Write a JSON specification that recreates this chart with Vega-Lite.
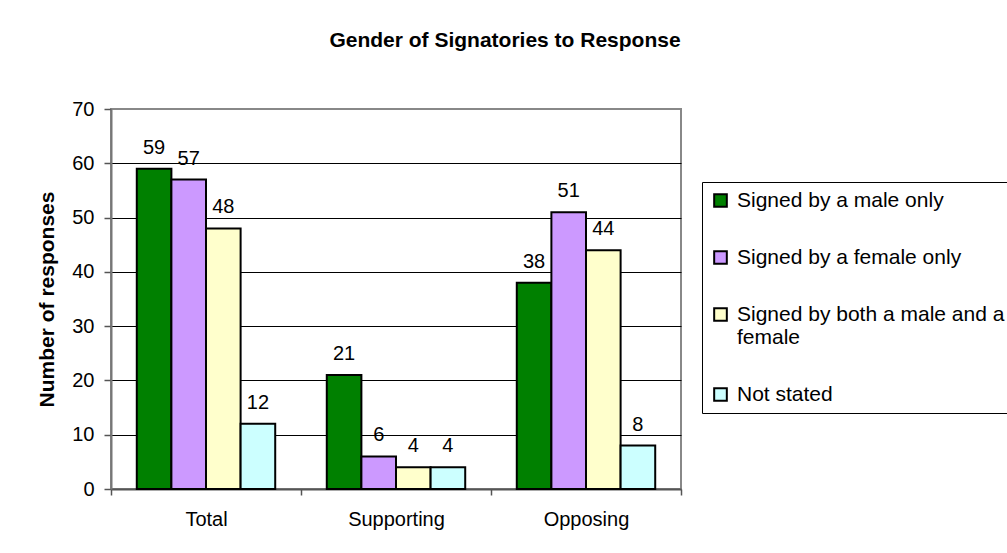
{
  "$schema": "https://vega.github.io/schema/vega-lite/v6.json",
  "width": 570,
  "height": 380,
  "autosize": {"type": "none"},
  "padding": {"left": 111, "top": 109, "right": 326, "bottom": 64},
  "background": "white",
  "title": {
    "text": "Gender of Signatories to Response",
    "font": "Arial",
    "fontSize": 21,
    "fontWeight": "bold",
    "color": "black",
    "anchor": "middle",
    "frame": "group",
    "dx": 109,
    "offset": 48
  },
  "data": {
    "values": [
      {"group": "Total", "series": "Signed by a male only", "value": 59},
      {"group": "Total", "series": "Signed by a female only", "value": 57},
      {"group": "Total", "series": "Signed by both a male and a female", "value": 48},
      {"group": "Total", "series": "Not stated", "value": 12},
      {"group": "Supporting", "series": "Signed by a male only", "value": 21},
      {"group": "Supporting", "series": "Signed by a female only", "value": 6},
      {"group": "Supporting", "series": "Signed by both a male and a female", "value": 4},
      {"group": "Supporting", "series": "Not stated", "value": 4},
      {"group": "Opposing", "series": "Signed by a male only", "value": 38},
      {"group": "Opposing", "series": "Signed by a female only", "value": 51},
      {"group": "Opposing", "series": "Signed by both a male and a female", "value": 44},
      {"group": "Opposing", "series": "Not stated", "value": 8}
    ]
  },
  "encoding": {
    "x": {
      "field": "group",
      "type": "nominal",
      "sort": ["Total", "Supporting", "Opposing"],
      "scale": {"paddingInner": 0, "paddingOuter": 0},
      "axis": {
        "title": null,
        "labelAngle": 0,
        "labelFont": "Arial",
        "labelFontSize": 20,
        "labelColor": "black",
        "labelPadding": 14,
        "tickBand": "extent",
        "tickSize": 6,
        "tickColor": "#555555",
        "tickWidth": 1.5,
        "domainColor": "#555555",
        "domainWidth": 2,
        "grid": false
      }
    },
    "xOffset": {
      "field": "series",
      "type": "nominal",
      "sort": ["Signed by a male only", "Signed by a female only", "Signed by both a male and a female", "Not stated"],
      "scale": {"paddingInner": 0, "paddingOuter": 0.745}
    },
    "y": {
      "field": "value",
      "type": "quantitative",
      "scale": {"domain": [0, 70], "nice": false},
      "axis": {
        "title": "Number of responses",
        "titleFont": "Arial",
        "titleFontSize": 21,
        "titleFontWeight": "bold",
        "titleColor": "black",
        "titlePadding": 14,
        "values": [0, 10, 20, 30, 40, 50, 60, 70],
        "labelFont": "Arial",
        "labelFontSize": 20,
        "labelColor": "black",
        "labelPadding": 10,
        "tickSize": 7,
        "tickColor": "#555555",
        "tickWidth": 1.5,
        "domainColor": "#777777",
        "domainWidth": 2,
        "grid": true,
        "gridColor": {"condition": {"test": "datum.value == 70 || datum.value == 0", "value": "transparent"}, "value": "black"},
        "gridWidth": 1
      }
    }
  },
  "layer": [
    {
      "mark": {"type": "bar", "stroke": "black", "strokeWidth": 2},
      "encoding": {
        "color": {
          "field": "series",
          "type": "nominal",
          "sort": ["Signed by a male only", "Signed by a female only", "Signed by both a male and a female", "Not stated"],
          "scale": {
            "domain": ["Signed by a male only", "Signed by a female only", "Signed by both a male and a female", "Not stated"],
            "range": ["#008000", "#CC99FF", "#FFFFCC", "#CCFFFF"]
          },
          "legend": {
            "title": null,
            "orient": "none",
            "legendX": 591,
            "legendY": 73,
            "symbolType": "square",
            "symbolSize": 160,
            "symbolStrokeColor": "black",
            "symbolStrokeWidth": 2,
            "symbolOpacity": 1,
            "labelFont": "Arial",
            "labelFontSize": 21,
            "labelColor": "black",
            "labelLimit": 400,
            "labelOffset": 6,
            "rowPadding": 35,
            "padding": 8,
            "strokeColor": "black",
            "fillColor": "white",
            "labelExpr": "datum.label == 'Signed by both a male and a female' ? ['Signed by both a male and a', 'female'] : datum.label"
          }
        }
      }
    },
    {
      "mark": {"type": "text", "font": "Arial", "fontSize": 20, "color": "black", "baseline": "alphabetic", "dy": -15},
      "encoding": {
        "text": {"field": "value", "type": "quantitative"}
      }
    }
  ],
  "config": {
    "view": {"stroke": "#888888", "strokeWidth": 2},
    "font": "Arial"
  }
}
